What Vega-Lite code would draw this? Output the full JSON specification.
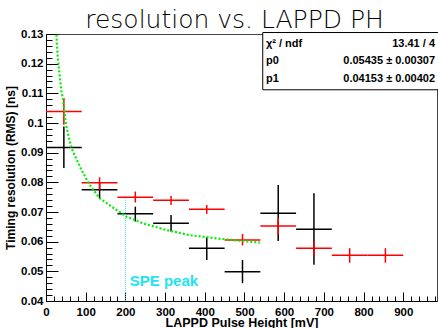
{
  "$schema": "https://vega.github.io/schema/vega-lite/v6.json",
  "width": 391,
  "height": 267,
  "autosize": {"type": "none"},
  "padding": {"left": 46, "top": 34, "right": 1, "bottom": 27},
  "background": "white",
  "config": {"view": {"stroke": "#444", "strokeWidth": 1}, "font": "Liberation Sans"},
  "title": {"text": "resolution vs. LAPPD PH", "frame": "group", "anchor": "middle", "orient": "top", "baseline": "alphabetic", "offset": 4, "dx": -7, "dy": 29, "fontSize": 25, "font": "DejaVu Sans", "fontWeight": 200, "color": "#000"},
  "resolve": {"axis": {"x": "independent", "y": "independent"}},
  "datasets": {
    "points": [
      {"s": "black", "x": 45, "xlo": 0, "xhi": 90, "y": 0.0917, "ylo": 0.0848, "yhi": 0.0988},
      {"s": "black", "x": 135, "xlo": 90, "xhi": 180, "y": 0.0775, "ylo": 0.0747, "yhi": 0.0799},
      {"s": "black", "x": 225, "xlo": 180, "xhi": 270, "y": 0.0694, "ylo": 0.0668, "yhi": 0.0718},
      {"s": "black", "x": 315, "xlo": 270, "xhi": 360, "y": 0.0662, "ylo": 0.0634, "yhi": 0.0690},
      {"s": "black", "x": 405, "xlo": 360, "xhi": 450, "y": 0.0578, "ylo": 0.0538, "yhi": 0.0615},
      {"s": "black", "x": 495, "xlo": 450, "xhi": 540, "y": 0.0499, "ylo": 0.0460, "yhi": 0.0538},
      {"s": "black", "x": 585, "xlo": 540, "xhi": 630, "y": 0.0696, "ylo": 0.0602, "yhi": 0.0791},
      {"s": "black", "x": 675, "xlo": 630, "xhi": 720, "y": 0.0642, "ylo": 0.0522, "yhi": 0.0763},
      {"s": "red", "x": 45, "xlo": 0, "xhi": 90, "y": 0.1039, "ylo": 0.0994, "yhi": 0.1084},
      {"s": "red", "x": 135, "xlo": 90, "xhi": 180, "y": 0.0799, "ylo": 0.0775, "yhi": 0.0817},
      {"s": "red", "x": 225, "xlo": 180, "xhi": 270, "y": 0.0750, "ylo": 0.0732, "yhi": 0.0769},
      {"s": "red", "x": 315, "xlo": 270, "xhi": 360, "y": 0.0740, "ylo": 0.0724, "yhi": 0.0754},
      {"s": "red", "x": 405, "xlo": 360, "xhi": 450, "y": 0.0709, "ylo": 0.0694, "yhi": 0.0724},
      {"s": "red", "x": 495, "xlo": 450, "xhi": 540, "y": 0.0606, "ylo": 0.0587, "yhi": 0.0626},
      {"s": "red", "x": 585, "xlo": 540, "xhi": 630, "y": 0.0653, "ylo": 0.0623, "yhi": 0.0681},
      {"s": "red", "x": 675, "xlo": 630, "xhi": 720, "y": 0.0578, "ylo": 0.0553, "yhi": 0.0600},
      {"s": "red", "x": 765, "xlo": 720, "xhi": 810, "y": 0.0554, "ylo": 0.0529, "yhi": 0.0578},
      {"s": "red", "x": 855, "xlo": 810, "xhi": 900, "y": 0.0554, "ylo": 0.0529, "yhi": 0.0578}
    ],
    "fit": [
      {"x": 26.2, "y": 0.1298},
      {"x": 29.5, "y": 0.1224},
      {"x": 32.8, "y": 0.1180},
      {"x": 38.8, "y": 0.1106},
      {"x": 42.9, "y": 0.1081},
      {"x": 49.7, "y": 0.1000},
      {"x": 58.0, "y": 0.0949},
      {"x": 64.0, "y": 0.0916},
      {"x": 89.2, "y": 0.0842},
      {"x": 110.2, "y": 0.0791},
      {"x": 135.4, "y": 0.0746},
      {"x": 177.5, "y": 0.0707},
      {"x": 202.7, "y": 0.0684},
      {"x": 244.5, "y": 0.0662},
      {"x": 303.5, "y": 0.0639},
      {"x": 362.3, "y": 0.0622},
      {"x": 429.5, "y": 0.0611},
      {"x": 513.5, "y": 0.0600},
      {"x": 538.7, "y": 0.0597}
    ],
    "spe": [{"x": 200, "y1": 0.04, "y2": 0.0746, "tx": 211, "ty": 0.045, "label": "SPE peak"}],
    "box": [{"x1": 546, "x2": 1000, "y1": 0.1112, "y2": 0.1305}],
    "stats": [
      {"label": "χ² / ndf", "value": "13.41 / 4", "lx": 554, "rx": 980, "y": 0.1267},
      {"label": "p0", "value": "0.05435 ± 0.00307", "lx": 554, "rx": 980, "y": 0.1208},
      {"label": "p1", "value": "0.04153 ± 0.00402", "lx": 554, "rx": 980, "y": 0.1148}
    ]
  },
  "layer": [
    {
      "data": {"name": "points"},
      "mark": {"type": "rule", "strokeWidth": 1.5},
      "encoding": {
        "x": {"field": "xlo", "type": "quantitative",
          "scale": {"domain": [0, 985], "nice": false, "zero": false},
          "axis": {
            "orient": "bottom",
            "values": [0, 100, 200, 300, 400, 500, 600, 700, 800, 900],
            "format": "d",
            "tickSize": -9, "tickColor": "#000", "domainColor": "#000", "grid": false,
            "labelFont": "Liberation Sans", "labelFontWeight": "bold", "labelFontSize": 11.5, "labelColor": "#000",
            "labelPadding": 14, "labelOverlap": false, "labelFlush": false,
            "title": "LAPPD Pulse Height [mV]", "titleFont": "Liberation Sans", "titleFontWeight": "bold", "titleFontSize": 12.5, "titleColor": "#000", "titlePadding": -1
          }},
        "x2": {"field": "xhi"},
        "y": {"field": "y", "type": "quantitative",
          "scale": {"domain": [0.04, 0.13], "nice": false, "zero": false},
          "axis": {
            "orient": "left",
            "values": [0.04, 0.05, 0.06, 0.07, 0.08, 0.09, 0.1, 0.11, 0.12, 0.13],
            "format": "~g",
            "tickSize": -12, "tickColor": "#000", "domainColor": "#000", "grid": false,
            "labelFont": "Liberation Sans", "labelFontWeight": "bold", "labelFontSize": 11.5, "labelColor": "#000",
            "labelPadding": 15, "labelOverlap": false, "labelFlush": false,
            "title": "Timing resolution (RMS) [ns]", "titleFont": "Liberation Sans", "titleFontWeight": "bold", "titleFontSize": 12, "titleColor": "#000", "titlePadding": 3
          }},
        "color": {"field": "s", "type": "nominal", "scale": {"domain": ["black", "red"], "range": ["#000000", "#ff0000"]}, "legend": null}
      }
    },
    {
      "data": {"name": "points"},
      "mark": {"type": "rule", "strokeWidth": 1.5},
      "encoding": {
        "x": {"field": "x", "type": "quantitative",
          "axis": {"orient": "bottom", "values": [20,40,60,80,120,140,160,180,220,240,260,280,320,340,360,380,420,440,460,480,520,540,560,580,620,640,660,680,720,740,760,780,820,840,860,880,920,940,960,980],
            "labels": false, "title": null, "domain": false, "grid": false, "tickSize": -5, "tickColor": "#000"}},
        "y": {"field": "ylo", "type": "quantitative",
          "axis": {"orient": "left", "values": [0.042,0.044,0.046,0.048,0.052,0.054,0.056,0.058,0.062,0.064,0.066,0.068,0.072,0.074,0.076,0.078,0.082,0.084,0.086,0.088,0.092,0.094,0.096,0.098,0.102,0.104,0.106,0.108,0.112,0.114,0.116,0.118,0.122,0.124,0.126,0.128],
            "labels": false, "title": null, "domain": false, "grid": false, "tickSize": -6, "tickColor": "#000"}},
        "y2": {"field": "yhi"},
        "color": {"field": "s", "type": "nominal", "legend": null}
      }
    },
    {
      "data": {"name": "fit"},
      "mark": {"type": "line", "color": "#00ee00", "strokeWidth": 2.2, "strokeDash": [2, 2], "clip": true},
      "encoding": {
        "x": {"field": "x", "type": "quantitative", "axis": null},
        "y": {"field": "y", "type": "quantitative", "axis": null}
      }
    },
    {
      "data": {"name": "spe"},
      "mark": {"type": "rule", "color": "#40e0e8", "strokeWidth": 1, "strokeDash": [1, 1]},
      "encoding": {
        "x": {"field": "x", "type": "quantitative", "axis": null},
        "y": {"field": "y1", "type": "quantitative", "axis": null},
        "y2": {"field": "y2"}
      }
    },
    {
      "data": {"name": "spe"},
      "mark": {"type": "text", "color": "#22e3ef", "font": "Liberation Sans", "fontWeight": "bold", "fontSize": 15, "align": "left", "baseline": "alphabetic"},
      "encoding": {
        "x": {"field": "tx", "type": "quantitative", "axis": null},
        "y": {"field": "ty", "type": "quantitative", "axis": null},
        "text": {"field": "label"}
      }
    },
    {
      "data": {"name": "box"},
      "mark": {"type": "rect", "fill": "white", "stroke": "#000", "strokeWidth": 1, "clip": false},
      "encoding": {
        "x": {"field": "x1", "type": "quantitative", "axis": null},
        "x2": {"field": "x2"},
        "y": {"field": "y1", "type": "quantitative", "axis": null},
        "y2": {"field": "y2"}
      }
    },
    {
      "data": {"name": "stats"},
      "mark": {"type": "text", "font": "Liberation Sans", "fontWeight": "bold", "fontSize": 11, "align": "left", "baseline": "middle", "color": "#000"},
      "encoding": {
        "x": {"field": "lx", "type": "quantitative", "axis": null},
        "y": {"field": "y", "type": "quantitative", "axis": null},
        "text": {"field": "label"}
      }
    },
    {
      "data": {"name": "stats"},
      "mark": {"type": "text", "font": "Liberation Sans", "fontWeight": "bold", "fontSize": 11, "align": "right", "baseline": "middle", "color": "#000"},
      "encoding": {
        "x": {"field": "rx", "type": "quantitative", "axis": null},
        "y": {"field": "y", "type": "quantitative", "axis": null},
        "text": {"field": "value"}
      }
    }
  ]
}
